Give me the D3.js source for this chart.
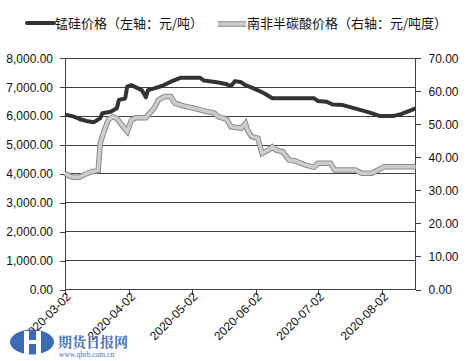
<!DOCTYPE html>
<html><head><meta charset="utf-8">
<script src="https://cdn.jsdelivr.net/npm/d3@7"></script>
<style>body{margin:0;background:#fff}svg{display:block}</style>
</head><body>
<svg id="c" width="466" height="361"></svg>
<script>
const seriesNames = ["锰硅价格（左轴：元/吨）", "南非半碳酸价格（右轴：元/吨度）"];
const siDates = ["2020-03-02","2020-03-06","2020-03-09","2020-03-13","2020-03-16","2020-03-19","2020-03-20","2020-03-24","2020-03-27","2020-03-28","2020-03-31","2020-04-01","2020-04-03","2020-04-08","2020-04-10","2020-04-11","2020-04-14","2020-04-18","2020-04-22","2020-04-27","2020-05-06","2020-05-08","2020-05-15","2020-05-19","2020-05-21","2020-05-23","2020-05-26","2020-05-28","2020-06-01","2020-06-06","2020-06-10","2020-06-30","2020-07-02","2020-07-06","2020-07-09","2020-07-14","2020-07-21","2020-07-27","2020-08-01","2020-08-07","2020-08-11","2020-08-16","2020-08-18"];
const siValues = [6050,5990,5900,5820,5790,5930,6100,6150,6270,6560,6610,7020,7070,6900,6650,6900,6960,7050,7190,7330,7330,7230,7160,7100,7040,7210,7170,7070,6960,6790,6620,6620,6520,6500,6400,6380,6240,6120,6000,6000,6070,6210,6270];
const oreDates = ["2020-03-02","2020-03-04","2020-03-06","2020-03-09","2020-03-12","2020-03-15","2020-03-18","2020-03-19","2020-03-21","2020-03-23","2020-03-25","2020-03-27","2020-03-30","2020-04-01","2020-04-03","2020-04-05","2020-04-10","2020-04-12","2020-04-14","2020-04-16","2020-04-19","2020-04-22","2020-04-24","2020-04-28","2020-05-03","2020-05-08","2020-05-13","2020-05-15","2020-05-19","2020-05-21","2020-05-26","2020-05-28","2020-05-29","2020-05-31","2020-06-03","2020-06-05","2020-06-08","2020-06-10","2020-06-12","2020-06-15","2020-06-18","2020-06-21","2020-06-25","2020-06-30","2020-07-02","2020-07-08","2020-07-10","2020-07-20","2020-07-23","2020-07-28","2020-08-03","2020-08-18"];
const oreValues = [35.2,34.4,34,34,35,35.7,36,44.3,48.3,51.5,52.3,51.8,49.3,47.8,51.3,52,52,53.5,54.9,57.4,58.4,58.4,56.4,55.6,54.9,54.1,53.4,52.3,51.5,49.3,48.8,50.3,48.3,46.3,45.8,41.2,42.2,43.2,42.2,41.7,39.2,38.9,37.9,37,38.2,38.2,36.2,36.2,35.2,35.2,37.2,37.2];
const leftTicks = [0,1000,2000,3000,4000,5000,6000,7000,8000];
const rightTicks = [0,10,20,30,40,50,60,70];
const dateTicks = ["2020-03-02","2020-04-02","2020-05-02","2020-06-02","2020-07-02","2020-08-02"];
const xDomain = ["2020-03-02","2020-08-18"];

const parse = d3.timeParse("%Y-%m-%d");
const svg = d3.select("#c");
const L = 65, R = 415.5, T = 58.3, B = 289.5;
const x = d3.scaleTime().domain(xDomain.map(parse)).range([L, R]);
const yL = d3.scaleLinear().domain([0, 8000]).range([B, T]);
const yR = d3.scaleLinear().domain([0, 70]).range([B, T]);
const font = "'Liberation Sans', Arial, sans-serif";
const axisCol = "#404040";

svg.append("g").selectAll("line").data(leftTicks.slice(1)).join("line")
  .attr("x1", L).attr("x2", R).attr("y1", d => yL(d)).attr("y2", d => yL(d))
  .attr("stroke", axisCol).attr("stroke-width", 1).attr("shape-rendering", "crispEdges");

const gl = svg.append("g").attr("transform", `translate(${L},0)`)
  .call(d3.axisLeft(yL).tickValues(leftTicks).tickSize(5).tickPadding(7).tickFormat(d3.format(",.2f")));
const gr = svg.append("g").attr("transform", `translate(${R},0)`)
  .call(d3.axisRight(yR).tickValues(rightTicks).tickSize(5).tickPadding(8).tickFormat(d3.format(".2f")));
const gb = svg.append("g").attr("transform", `translate(0,${B})`)
  .call(d3.axisBottom(x).tickValues(dateTicks.map(parse)).tickSize(5).tickFormat(d3.timeFormat("%Y-%m-%d")));
gb.selectAll("text").attr("text-anchor", "end")
  .attr("transform", "translate(1,3) rotate(-45)").attr("dy", "0.35em").attr("y", 3).attr("x", 0);
[gl, gr, gb].forEach(g => {
  g.selectAll("path").attr("stroke", axisCol).attr("shape-rendering", "crispEdges");
  g.selectAll("line").attr("stroke", axisCol).attr("shape-rendering", "crispEdges");
  g.selectAll("text").attr("font-family", font).attr("font-size", 12).attr("fill", "#111");
});
gl.select("path.domain").attr("d", `M-0,${B}V${T}`);
gr.select("path.domain").attr("d", `M0,${B}V${T}`);
gb.select("path.domain").attr("d", `M${L},0H${R}`);

const siLine = d3.line().x((d, i) => x(parse(siDates[i]))).y(d => yL(d));
const oreLine = d3.line().x((d, i) => x(parse(oreDates[i]))).y(d => yR(d));
svg.append("path").attr("d", oreLine(oreValues)).attr("fill", "none")
  .attr("stroke", "#8a8a8a").attr("stroke-width", 5.5).attr("stroke-linejoin", "miter");
svg.append("path").attr("d", oreLine(oreValues)).attr("fill", "none")
  .attr("stroke", "#cdcdcd").attr("stroke-width", 3.5).attr("stroke-linejoin", "miter");
svg.append("path").attr("d", siLine(siValues)).attr("fill", "none")
  .attr("stroke", "#333").attr("stroke-width", 4).attr("stroke-linejoin", "round");

const lg = svg.append("g");
lg.append("line").attr("x1", 27).attr("x2", 54).attr("y1", 23).attr("y2", 23)
  .attr("stroke", "#333").attr("stroke-width", 4).attr("stroke-linecap", "round");
lg.append("text").attr("x", 55).attr("y", 23).attr("dy", "0.35em").text(seriesNames[0])
  .attr("font-family", "'Noto Sans CJK SC', sans-serif").attr("font-size", 13).attr("fill", "#111");
lg.append("line").attr("x1", 218).attr("x2", 246).attr("y1", 24).attr("y2", 24)
  .attr("stroke", "#8a8a8a").attr("stroke-width", 5.5);
lg.append("line").attr("x1", 218).attr("x2", 246).attr("y1", 24).attr("y2", 24)
  .attr("stroke", "#cdcdcd").attr("stroke-width", 3.5);
lg.append("text").attr("x", 247).attr("y", 23).attr("dy", "0.35em").text(seriesNames[1])
  .attr("font-family", "'Noto Sans CJK SC', sans-serif").attr("font-size", 13).attr("fill", "#111");

const wm = svg.append("g");
wm.append("ellipse").attr("cx", 32).attr("cy", 342).attr("rx", 22).attr("ry", 12.5).attr("fill", "#3d6bb3");
wm.append("rect").attr("x", 24).attr("y", 331).attr("width", 5).attr("height", 23).attr("fill", "#fff");
wm.append("rect").attr("x", 36).attr("y", 331).attr("width", 5).attr("height", 23).attr("fill", "#fff");
wm.append("rect").attr("x", 24).attr("y", 340).attr("width", 17).attr("height", 4).attr("fill", "#fff");
wm.append("text").attr("x", 58).attr("y", 347).text("期货日报网")
  .attr("font-family", "'Noto Serif CJK SC', 'Noto Sans CJK SC', serif").attr("font-weight", "bold").attr("font-size", 14).attr("fill", "#4a72b8");
wm.append("text").attr("x", 59).attr("y", 357).text("www.qhrb.com.cn")
  .attr("font-family", "'Liberation Serif', serif").attr("font-size", 7.5).attr("fill", "#4a72b8");
</script>
</body></html>
